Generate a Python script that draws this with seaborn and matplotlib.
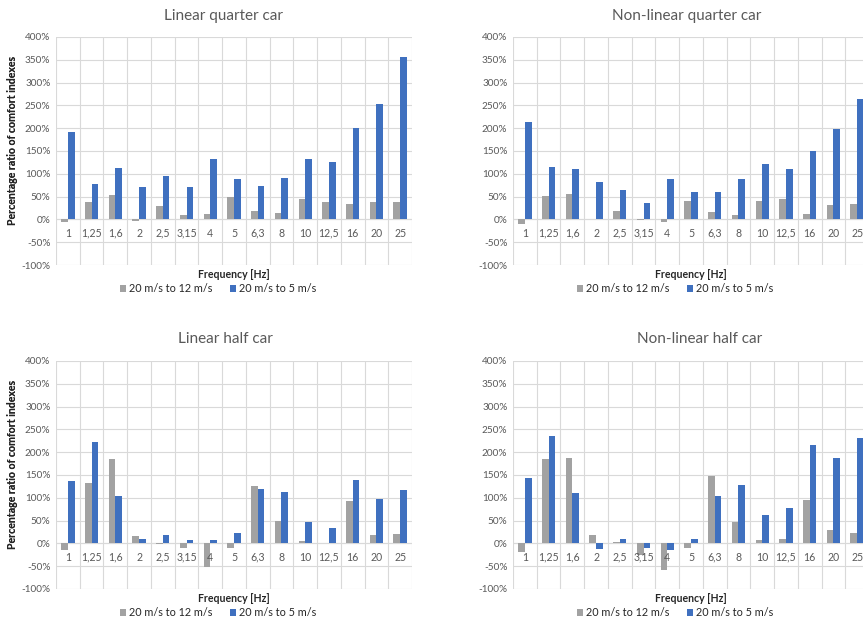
import numpy as np
import pandas as pd
import seaborn as sns
import matplotlib.pyplot as plt
from matplotlib.patches import Patch
from matplotlib.ticker import FuncFormatter

# One-third octave band centre frequencies
frequencies = ["1", "1,25", "1,6", "2", "2,5", "3,15", "4", "5",
               "6,3", "8", "10", "12,5", "16", "20", "25"]
series_names = ["20 m/s to 12 m/s", "20 m/s to 5 m/s"]

# Percentage ratio of comfort indexes, per model
linear_quarter_12 = [-5, 38, 53, -3, 30, 9, 11, 49, 19, 14, 44, 38, 34, 39, 38]
linear_quarter_5 = [192, 78, 113, 72, 96, 72, 133, 89, 74, 91, 132, 125, 200, 252, 356]

nonlinear_quarter_12 = [-10, 52, 55, 0, 18, -2, -5, 41, 16, 10, 41, 44, 12, 31, 33]
nonlinear_quarter_5 = [214, 116, 110, 83, 65, 35, 89, 61, 61, 88, 122, 111, 150, 198, 265]

linear_half_12 = [-14, 132, 185, 17, -2, -10, -51, -9, 126, 49, 5, 0, 92, 19, 20]
linear_half_5 = [137, 223, 104, 9, 19, 8, 8, 22, 120, 112, 46, 33, 139, 97, 118]

nonlinear_half_12 = [-18, 184, 187, 19, 4, -26, -59, -11, 148, 47, 8, 9, 95, 30, 23]
nonlinear_half_5 = [144, 235, 111, -12, 9, -10, -15, 9, 103, 128, 63, 77, 215, 187, 231]

GRAY = "#A2A2A2"
BLUE = "#3F70BF"
TEXT = "#595959"
DARK = "#262626"
GRID = "#D9D9D9"

sns.set_style("white")
plt.rcParams["font.family"] = ["Lato", "DejaVu Sans"]

W, H = 863, 622
fig = plt.figure(figsize=(W / 100, H / 100), dpi=100)

# (title, 12 m/s series, 5 m/s series, plot-area left/top in px, title centre x/y in px)
panels = [
    ("Linear quarter car", linear_quarter_12, linear_quarter_5, 56, 37, 223, 16),
    ("Non-linear quarter car", nonlinear_quarter_12, nonlinear_quarter_5, 513, 37, 687, 16),
    ("Linear half car", linear_half_12, linear_half_5, 56, 361, 225, 339),
    ("Non-linear half car", nonlinear_half_12, nonlinear_half_5, 513, 361, 700, 339),
]
PW, PH = 356, 228

for title, v12, v5, px, py, tx, ty in panels:
    ax = fig.add_axes([px / W, 1 - (py + PH) / H, PW / W, PH / H])
    df = pd.DataFrame({
        "Frequency": frequencies * 2,
        "Ratio": v12 + v5,
        "Speed": [series_names[0]] * len(frequencies) + [series_names[1]] * len(frequencies),
    })
    sns.barplot(data=df, x="Frequency", y="Ratio", hue="Speed", order=frequencies,
                hue_order=series_names, palette=[GRAY, BLUE], width=0.56, gap=0,
                errorbar=None, saturation=1, linewidth=0, legend=False, ax=ax)

    ax.set_ylim(-100, 400)
    ax.set_xlim(-0.5, len(frequencies) - 0.5)
    ax.set_yticks(np.arange(-100, 401, 50))
    ax.yaxis.set_major_formatter(FuncFormatter(lambda v, _: f"{v:.0f}%"))
    ax.tick_params(axis="y", length=0, pad=4, labelsize=7.2, labelcolor=TEXT)
    ax.set_xticks([])
    ax.set_xticks(np.arange(len(frequencies) + 1) - 0.5, minor=True)
    ax.tick_params(axis="x", which="minor", length=0)
    ax.grid(True, axis="y", which="major", color=GRID, lw=0.8)
    ax.grid(True, axis="x", which="minor", color=GRID, lw=0.8)
    ax.set_axisbelow(True)
    for s in ax.spines.values():
        s.set_visible(False)
    ax.axhline(0, color=GRID, lw=0.8, zorder=0.5)

    # category labels sit just under the zero line
    for i, f in enumerate(frequencies):
        ax.text(i, -30, f, ha="center", va="center", fontsize=7.6, color=TEXT)

    ax.set_xlabel("")
    ax.set_ylabel("")

    fig.text(tx / W, 1 - ty / H, title, ha="center", va="center", fontsize=11, color=TEXT)
    fig.text((px + PW / 2) / W, 1 - (py + PH + 10) / H, "Frequency [Hz]", ha="center",
             va="center", fontsize=7.6, fontweight="bold", color=DARK)
    fig.text(13 / W, 1 - (py + 103) / H, "Percentage ratio of comfort indexes", rotation=90,
             ha="center", va="center", fontsize=7.6, fontweight="bold", color=DARK)

    handles = [Patch(facecolor=GRAY, edgecolor="none"), Patch(facecolor=BLUE, edgecolor="none")]
    fig.legend(handles, series_names, loc="center",
               bbox_to_anchor=((px + PW / 2 - 16) / W, 1 - (py + PH + 24) / H),
               ncol=2, frameon=False, fontsize=7.8, handlelength=0.55, handleheight=0.55,
               handletextpad=0.3, columnspacing=1.6, labelcolor=DARK, borderpad=0)

fig.savefig("out.png", dpi=100)
